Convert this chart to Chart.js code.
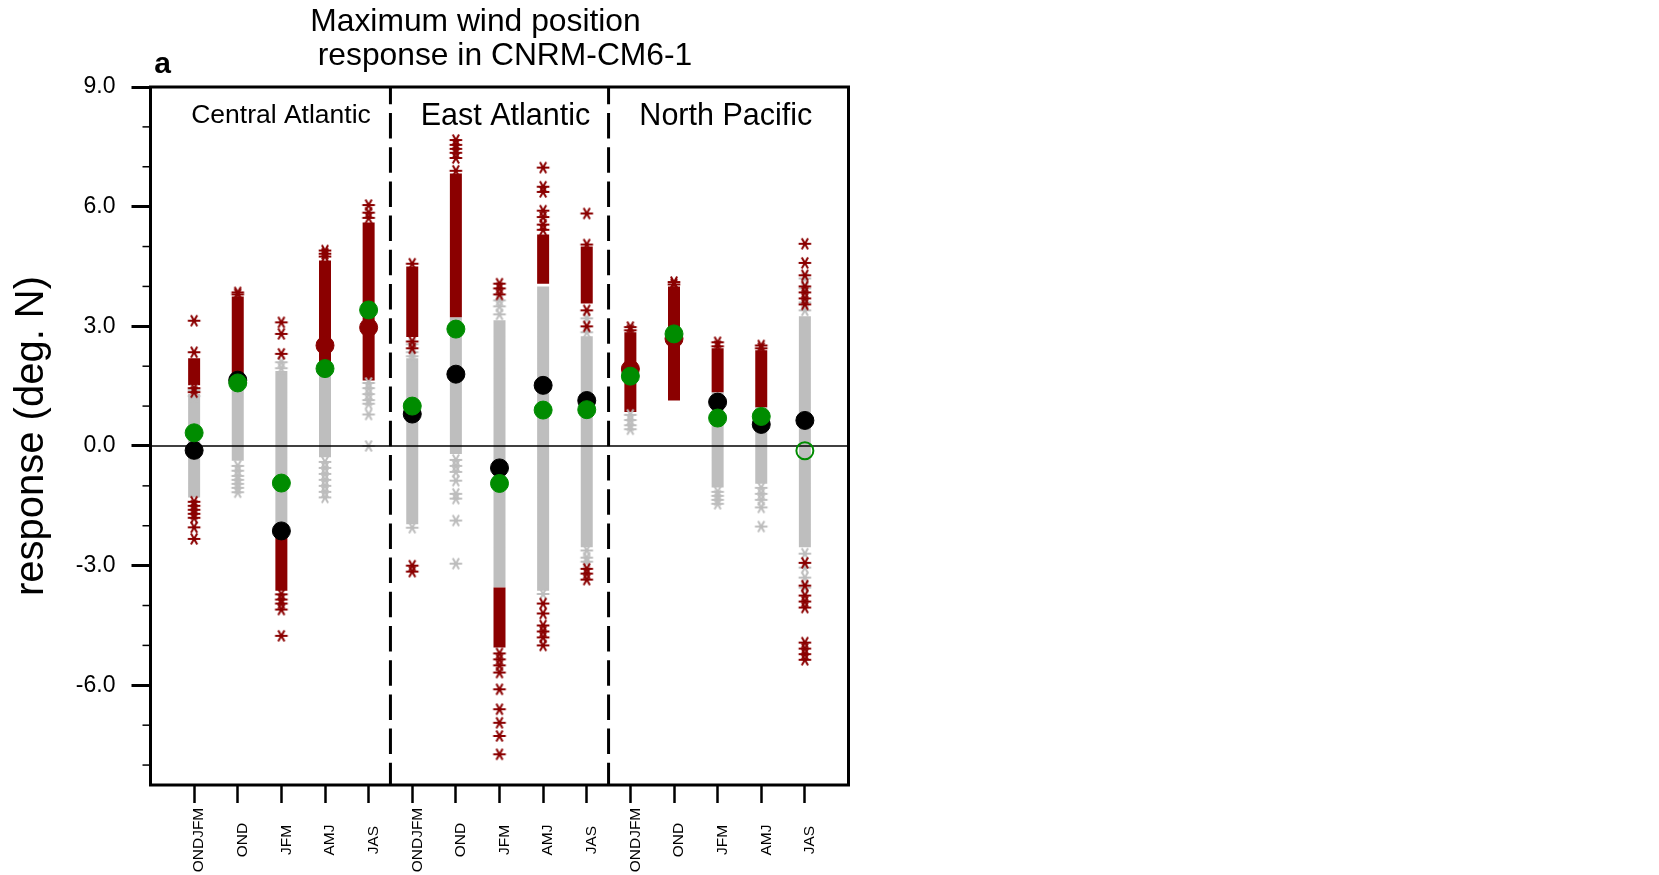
<!DOCTYPE html>
<html>
<head>
<meta charset="utf-8">
<title>Maximum wind position response in CNRM-CM6-1</title>
<script src="https://cdn.jsdelivr.net/npm/chart.js@4/dist/chart.umd.min.js"></script>
<style>
  body { margin: 0; background: #fff; }
  canvas { display: block; }
</style>
</head>
<body>
<canvas id="chart" width="1659" height="875"></canvas>
<script>
const FONT = '"Liberation Sans", Arial, Helvetica, sans-serif';

// categories
const seasons = ['ONDJFM', 'OND', 'JFM', 'AMJ', 'JAS',
                 'ONDJFM', 'OND', 'JFM', 'AMJ', 'JAS',
                 'ONDJFM', 'OND', 'JFM', 'AMJ', 'JAS'];
const regions = ['Central Atlantic', 'East Atlantic', 'North Pacific'];
const regionBreaks = [5.5, 10.5];

// y axis
const yTicks = [-6, -3, 0, 3, 6, 9];
const yMinorTicks = [-8, -7, -5, -4, -2, -1, 1, 2, 4, 5, 7, 8];

// dense part of each ensemble column (grey = not significant, red = significant)
const greyBand = [
  [-1.29, 1.30], [-0.37, 1.70], [-2.15, 1.88], [-0.28, 1.95], null,
  [-1.96, 2.20], [-0.20, 3.23], [-3.55, 3.15], [-3.63, 4.00], [-2.54, 2.75],
  null, null, [-1.04, 1.35], [-0.95, 0.97], [-2.54, 3.25]
];
const redBand = [
  [1.52, 2.20], [1.70, 3.75], [-3.63, -2.15], [1.95, 4.65], [1.64, 5.60],
  [2.73, 4.50], [3.23, 6.83], [-5.05, -3.55], [4.07, 5.30], [3.57, 5.00],
  [0.85, 2.85], [1.14, 4.00], [1.35, 2.45], [0.97, 2.40], null
];

// sparse members drawn as single asterisks
const redStars = [
  [3.14, 2.35, 1.45, 1.35, -1.40, -1.50, -1.60, -1.70, -1.80, -2.04, -2.33],
  [3.85, 3.80],
  [3.10, 2.81, 2.31, -3.72, -3.85, -3.95, -4.10, -4.76],
  [4.90, 4.82, 4.75],
  [6.04, 5.85, 5.72],
  [4.57, 2.62, 2.45, -3.00, -3.15],
  [7.67, 7.55, 7.45, 7.35, 7.22, 6.90],
  [4.07, 3.95, 3.80, -5.20, -5.35, -5.50, -5.68, -6.10, -6.60, -6.94, -7.27, -7.73],
  [6.98, 6.50, 6.37, 5.90, 5.74, 5.55, 5.42, -3.95, -4.20, -4.50, -4.65, -4.80, -5.00],
  [5.83, 5.05, 3.40, 3.00, -3.08, -3.20, -3.35],
  [2.98, 2.90],
  [4.11, 4.05],
  [2.60, 2.50],
  [2.52, 2.45],
  [5.07, 4.59, 4.28, 4.00, 3.85, 3.70, 3.55, -2.93, -3.50, -3.75, -3.90, -4.05, -4.93, -5.08, -5.22, -5.36]
];
const greyStars = [
  [1.25, 1.40],
  [-0.50, -0.62, -0.75, -0.85, -0.95, -1.05, -1.16],
  [2.10, 1.95],
  [-0.40, -0.55, -0.70, -0.85, -1.00, -1.15, -1.29],
  [1.58, 1.45, 1.30, 1.15, 1.06, 0.79, 0.00],
  [2.55, 2.35, 2.25, -2.05],
  [-0.35, -0.50, -0.65, -0.87, -1.20, -1.32, -1.87, -2.95],
  [3.65, 3.50, 3.30],
  [-3.71],
  [3.20, 2.85, -2.62, -2.80, -2.90],
  [0.78, 0.65, 0.52, 0.42],
  [],
  [-1.15, -1.25, -1.35, -1.45],
  [-1.05, -1.20, -1.35, -1.54, -2.02],
  [4.20, 3.95, 3.60, 3.40, -2.70, -3.05, -3.30, -3.55]
];

// big dots
const modelDot = [-0.11, 1.65, -2.13, 2.52, 2.97, 0.80, 1.80, -0.55, 1.52, 1.14, 1.93, 2.69, 1.10, 0.54, 0.64];
const modelSig = [false, false, false, true, true, false, false, false, false, false, true, true, false, false, false];
const greenDot = [0.33, 1.58, -0.93, 1.94, 3.41, 1.00, 2.93, -0.94, 0.90, 0.91, 1.75, 2.81, 0.70, 0.74, -0.12];
const greenFilled = [true, true, true, true, true, true, true, true, true, true, true, true, true, true, false];

const titleLines = ['Maximum wind position', 'response in CNRM-CM6-1'];

const RED = '#8b0000';
const GREY = '#bebebe';
const GREEN = '#008c00';

// asterisk marker
function makeStar(color) {
  const c = document.createElement('canvas');
  c.width = 16; c.height = 16;
  const g = c.getContext('2d');
  g.strokeStyle = color;
  g.lineWidth = 2;
  [0, 60, 120].forEach(d => {
    const r = d * Math.PI / 180;
    g.beginPath();
    g.moveTo(8 - 6.3 * Math.cos(r), 8 - 6.3 * Math.sin(r));
    g.lineTo(8 + 6.3 * Math.cos(r), 8 + 6.3 * Math.sin(r));
    g.stroke();
  });
  return c;
}

const bandPoints = bands => bands.flatMap((b, i) => b ? [{x: i + 1, y: b[0]}, {x: i + 1, y: b[1]}, {x: i + 1, y: null}] : []);
const starPoints = lists => lists.flatMap((list, i) => list.map(v => ({x: i + 1, y: v})));

const bandStyle = color => ({
  showLine: true, borderColor: color, borderWidth: 12, borderCapStyle: 'butt',
  pointRadius: 0, spanGaps: false
});

const datasets = [
  { data: bandPoints(greyBand), ...bandStyle(GREY), order: 20 },
  { data: bandPoints(redBand), ...bandStyle(RED), order: 19 },
  { data: starPoints(greyStars), pointStyle: makeStar(GREY), pointRadius: 6, order: 18 },
  { data: starPoints(redStars), pointStyle: makeStar(RED), pointRadius: 6, order: 17 },
  { data: [{x: 0, y: 0}, {x: 16, y: 0}], showLine: true, borderColor: '#000', borderWidth: 1.6, pointRadius: 0, order: 16 },
  ...regionBreaks.map(b => ({
    data: [{x: b, y: 9}, {x: b, y: -8.5}], showLine: true, borderColor: '#000', borderWidth: 3,
    borderDash: [25.5, 8.7], borderDashOffset: 8.2, pointRadius: 0, order: 15
  })),
  {
    data: modelDot.map((v, i) => ({x: i + 1, y: v})),
    pointRadius: 9, pointBorderWidth: 1,
    pointBackgroundColor: modelSig.map(s => s ? RED : '#000'),
    pointBorderColor: modelSig.map(s => s ? RED : '#000'),
    order: 3
  },
  {
    data: greenDot.map((v, i) => ({x: i + 1, y: v})),
    pointRadius: greenFilled.map(f => f ? 9 : 8.5),
    pointBorderWidth: greenFilled.map(f => f ? 1 : 2),
    pointBackgroundColor: greenFilled.map(f => f ? GREEN : 'rgba(0,0,0,0)'),
    pointBorderColor: GREEN,
    order: 2
  }
];

const frame = {
  id: 'frame',
  afterDatasetsDraw(chart) {
    const {ctx, chartArea: a, scales: {y}} = chart;
    ctx.save();
    ctx.strokeStyle = '#000';
    ctx.lineWidth = 1.5;
    yMinorTicks.forEach(v => {
      const py = y.getPixelForValue(v);
      ctx.beginPath();
      ctx.moveTo(a.left - 8, py);
      ctx.lineTo(a.left, py);
      ctx.stroke();
    });
    ctx.lineWidth = 3;
    ctx.strokeRect(a.left, a.top, a.right - a.left, a.bottom - a.top);
    ctx.restore();
  }
};

const texts = {
  id: 'texts',
  afterDraw(chart) {
    const {ctx, scales: {x}} = chart;
    ctx.save();
    ctx.fillStyle = '#000';
    ctx.textAlign = 'center';
    ctx.textBaseline = 'alphabetic';
    ctx.font = `31.8px ${FONT}`;
    ctx.fillText(titleLines[0], 475.5, 30.7);
    ctx.fillText(titleLines[1], 505, 64.5);

    ctx.font = `bold 30px ${FONT}`;
    ctx.fillText('a', 162.5, 73);

    ctx.font = `26.5px ${FONT}`;
    ctx.fillText(regions[0], 281, 123.3);
    ctx.font = `30.5px ${FONT}`;
    ctx.fillText(regions[1], 505.5, 125);
    ctx.fillText(regions[2], 725.8, 125);

    ctx.font = `15.5px ${FONT}`;
    ctx.textBaseline = 'middle';
    seasons.forEach((s, i) => {
      const px = x.getPixelForValue(i + 1);
      ctx.save();
      ctx.translate(px + 5, 840);
      ctx.rotate(-Math.PI / 2);
      ctx.fillText(s, 0, 0);
      ctx.restore();
    });
    ctx.restore();
  }
};

new Chart(document.getElementById('chart'), {
  type: 'scatter',
  data: { datasets },
  options: {
    responsive: false,
    animation: false,
    events: [],
    layout: { padding: { top: 87, right: 810.5, bottom: 0, left: 0 } },
    plugins: { legend: { display: false }, tooltip: { enabled: false } },
    scales: {
      x: {
        type: 'linear', min: 0, max: 16, offset: false,
        afterBuildTicks: s => { s.ticks = seasons.map((_, i) => ({value: i + 1})); },
        afterFit: s => { s.height = 90; s.paddingLeft = 0; s.paddingRight = 0; },
        ticks: { display: false },
        grid: { offset: false, drawOnChartArea: false, drawTicks: true, tickLength: 18, tickWidth: 2.5, tickColor: '#000' },
        border: { display: false }
      },
      y: {
        type: 'linear', min: -8.5, max: 9,
        afterBuildTicks: s => { s.ticks = yTicks.map(v => ({value: v})); },
        afterFit: s => { s.width = 150.5; s.paddingTop = 0; s.paddingBottom = 0; },
        ticks: { callback: v => v.toFixed(1), color: '#000', padding: 16, font: { family: FONT, size: 23 } },
        grid: { drawOnChartArea: false, drawTicks: true, tickLength: 19, tickWidth: 3, tickColor: '#000' },
        border: { display: false },
        title: {
          display: true, text: 'response (deg. N)', color: '#000',
          font: { family: FONT, size: 40 }, padding: { top: 8, bottom: 0 }
        }
      }
    }
  },
  plugins: [frame, texts]
});
</script>
</body>
</html>
